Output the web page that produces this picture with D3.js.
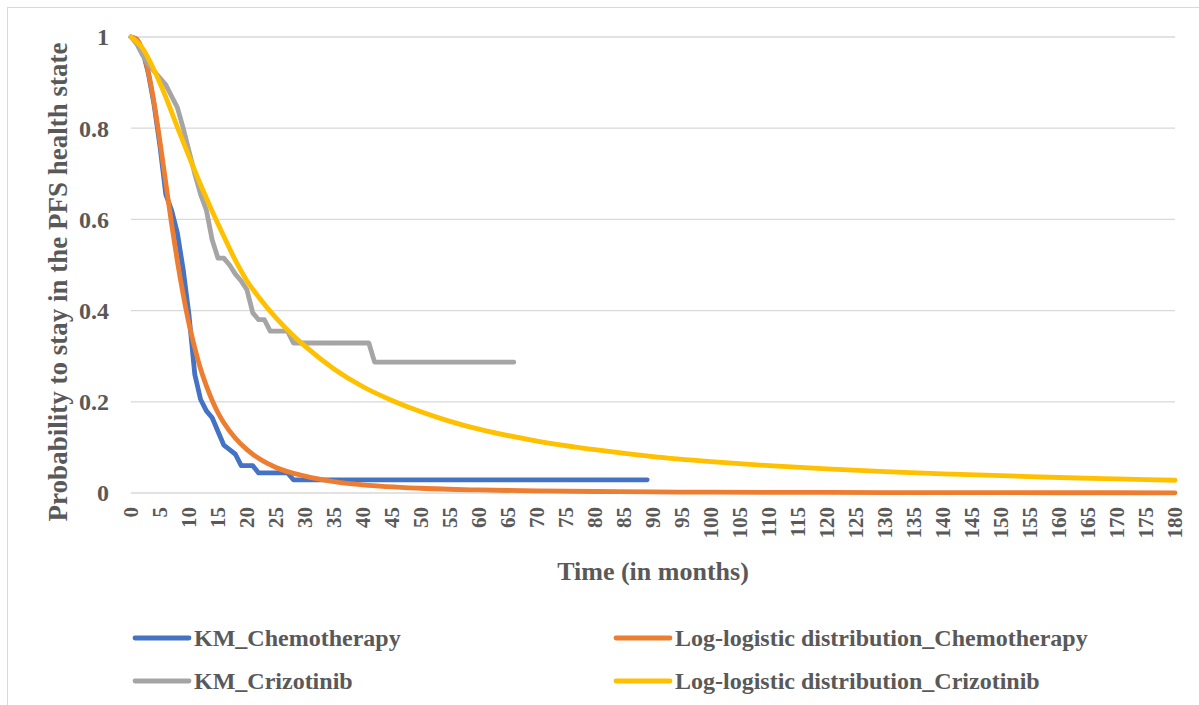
<!DOCTYPE html>
<html>
<head>
<meta charset="utf-8">
<script src="https://cdn.jsdelivr.net/npm/d3@7"></script>
<style>
  body { margin: 0; background: #fff; }
  svg text { font-family: "Liberation Serif", "Times New Roman", serif; font-weight: bold; fill: #595959; }
</style>
</head>
<body>
<svg id="chart" width="1199" height="705"></svg>
<script>
// KM chemotherapy (month, survival) - only change points kept
const kmChemoTime = [0, 1, 2, 3, 4, 5, 6, 7, 8, 9, 10, 11, 12, 13, 14, 15, 16, 17, 18, 19, 21, 22, 27, 28, 89];
const kmChemoValue = [1, 0.995, 0.97, 0.92, 0.85, 0.76, 0.655, 0.62, 0.57, 0.49, 0.39, 0.26, 0.205, 0.18, 0.165, 0.135, 0.105, 0.095, 0.085, 0.06, 0.06, 0.044, 0.044, 0.029, 0.029];

// KM crizotinib
const kmCrizoTime = [0, 1, 2, 3, 4, 5, 6, 7, 8, 9, 10, 11, 12, 13, 14, 15, 16, 17, 18, 19, 20, 21, 22, 23, 24, 27, 28, 41, 42, 66];
const kmCrizoValue = [1, 0.985, 0.96, 0.94, 0.925, 0.91, 0.895, 0.87, 0.845, 0.8, 0.75, 0.7, 0.655, 0.62, 0.555, 0.515, 0.515, 0.5, 0.48, 0.465, 0.445, 0.395, 0.38, 0.38, 0.355, 0.355, 0.329, 0.329, 0.287, 0.287];

// log-logistic fit, chemotherapy
const llChemoTime = [0, 1, 2, 3, 4, 5, 6, 7, 8, 9, 10, 11, 12, 13, 14, 15, 16, 18, 20, 22, 25, 30, 35, 40, 50, 60, 70, 80, 90, 100, 120, 140, 160, 180];
const llChemoValue = [1, 0.995, 0.97, 0.922, 0.854, 0.77, 0.68, 0.59, 0.508, 0.435, 0.371, 0.318, 0.272, 0.235, 0.203, 0.176, 0.154, 0.12, 0.095, 0.076, 0.056, 0.037, 0.025, 0.018, 0.0104, 0.0067, 0.0045, 0.0033, 0.0024, 0.0018, 0.0012, 0.0008, 0.0006, 0.0004];

// log-logistic fit, crizotinib
const llCrizoTime = [0, 2, 4, 6, 8, 10, 12, 14, 16, 18, 20, 22, 25, 28, 30, 35, 40, 45, 50, 55, 60, 70, 80, 90, 100, 110, 120, 130, 140, 150, 160, 170, 180];
const llCrizoValue = [1, 0.975, 0.927, 0.868, 0.802, 0.738, 0.676, 0.618, 0.563, 0.51, 0.465, 0.43, 0.384, 0.345, 0.322, 0.272, 0.233, 0.203, 0.178, 0.157, 0.14, 0.114, 0.095, 0.08, 0.069, 0.06, 0.053, 0.047, 0.042, 0.038, 0.034, 0.031, 0.028];

const seriesNames = ["KM_Chemotherapy", "Log-logistic distribution_Chemotherapy", "KM_Crizotinib", "Log-logistic distribution_Crizotinib"];
const seriesColors = ["#4472c4", "#ed7d31", "#a5a5a5", "#ffc000"];
const xTicks = d3.range(0, 181, 5);
const yTicks = [0, 0.2, 0.4, 0.6, 0.8, 1];

const svg = d3.select("#chart");

// outer frame
svg.append("rect")
    .attr("x", 7.5).attr("y", 7.5)
    .attr("width", 1220).attr("height", 720)
    .attr("fill", "none")
    .attr("stroke", "#d9d9d9");

const x = d3.scaleLinear().domain([0, 180]).range([131, 1175]);
const y = d3.scaleLinear().domain([0, 1]).range([493, 37]);

// gridlines
svg.append("g")
    .selectAll("line")
    .data(yTicks)
    .join("line")
    .attr("x1", x(0)).attr("x2", x(180))
    .attr("y1", d => y(d)).attr("y2", d => y(d))
    .attr("stroke", "#d9d9d9")
    .attr("stroke-width", 1.3);

// y axis labels
svg.append("g")
    .selectAll("text")
    .data(yTicks)
    .join("text")
    .attr("x", 109)
    .attr("y", d => y(d))
    .attr("dy", "0.35em")
    .attr("text-anchor", "end")
    .attr("font-size", 24)
    .text(d => d === 0 || d === 1 ? d : d.toFixed(1));

// x axis labels, rotated
svg.append("g")
    .selectAll("text")
    .data(xTicks)
    .join("text")
    .attr("transform", d => `translate(${x(d)},507) rotate(-90)`)
    .attr("dy", "0.35em")
    .attr("text-anchor", "end")
    .attr("font-size", 21)
    .text(d => d);

svg.append("text")
    .attr("x", 653).attr("y", 580)
    .attr("text-anchor", "middle")
    .attr("font-size", 26)
    .text("Time (in months)");

svg.append("text")
    .attr("transform", "translate(58,282) rotate(-90)")
    .attr("dy", "0.35em")
    .attr("text-anchor", "middle")
    .attr("font-size", 27)
    .text("Probability to stay in the PFS health state");

// lines
const kmLine = d3.line()
    .x(d => x(d[0]))
    .y(d => y(d[1]));

const smoothLine = d3.line()
    .x(d => x(d[0]))
    .y(d => y(d[1]))
    .curve(d3.curveMonotoneX);

const series = [
    { pts: d3.zip(kmChemoTime, kmChemoValue), gen: kmLine },
    { pts: d3.zip(llChemoTime, llChemoValue), gen: smoothLine },
    { pts: d3.zip(kmCrizoTime, kmCrizoValue), gen: kmLine },
    { pts: d3.zip(llCrizoTime, llCrizoValue), gen: smoothLine }
];

series.forEach((s, i) => {
    svg.append("path")
        .datum(s.pts)
        .attr("fill", "none")
        .attr("stroke", seriesColors[i])
        .attr("stroke-width", 4.8)
        .attr("stroke-linecap", "round")
        .attr("stroke-linejoin", "round")
        .attr("d", s.gen);
});

// legend, 2 columns x 2 rows
const legendX = [135, 616];
const legendY = [638, 681];

const legend = svg.append("g")
    .selectAll("g")
    .data(seriesNames)
    .join("g")
    .attr("transform", (d, i) => `translate(${legendX[i % 2]},${legendY[Math.floor(i / 2)]})`);

legend.append("line")
    .attr("x1", 0).attr("x2", 54)
    .attr("stroke", (d, i) => seriesColors[i])
    .attr("stroke-width", 4.8)
    .attr("stroke-linecap", "round");

legend.append("text")
    .attr("x", 59)
    .attr("dy", "0.35em")
    .attr("font-size", 24)
    .text(d => d);
</script>
</body>
</html>
